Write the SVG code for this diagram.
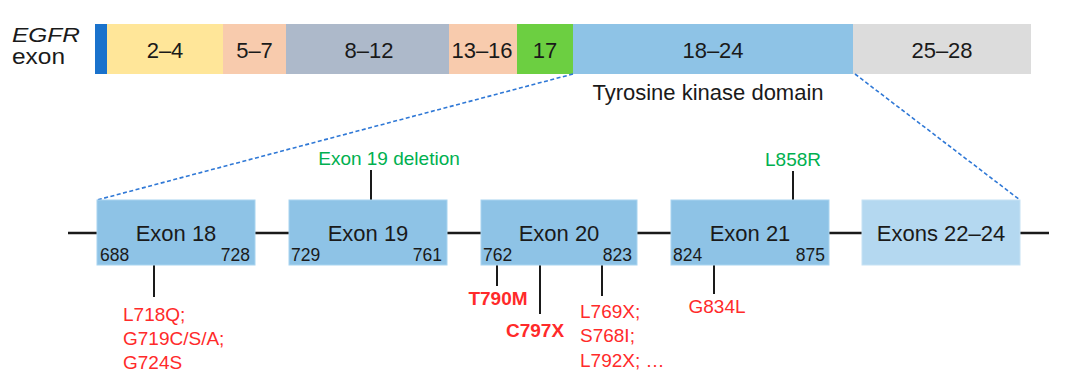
<svg xmlns="http://www.w3.org/2000/svg" width="1080" height="387" viewBox="0 0 1080 387">
<style>
text{font-family:"Liberation Sans",Arial,sans-serif;fill:#1a1a1a}
.bar{font-size:22px;text-anchor:middle}
.ex{fill:#8ec3e6;stroke:#a8d4f0;stroke-width:1}
.exl{font-size:22px;text-anchor:middle}
.num{font-size:17.5px}
.end{text-anchor:end}
.tick{stroke:#1a1a1a;stroke-width:2}
.dash{stroke:#2f78d6;stroke-width:1.6;stroke-dasharray:4 2.5;fill:none}
.green{fill:#00b050;font-size:19px;text-anchor:middle}
.red{fill:#ff2a2a;font-size:19px}
.bold{font-weight:bold}
</style>
<rect width="1080" height="387" fill="#ffffff"/>
<g id="label">
<text x="12" y="42" font-size="20" font-style="italic" textLength="68" lengthAdjust="spacingAndGlyphs">EGFR</text>
<text x="12" y="64" font-size="22" textLength="53" lengthAdjust="spacingAndGlyphs">exon</text>
</g>
<g id="exon-bar">
<rect x="95" y="24" width="12" height="50" fill="#1a72cc"/>
<rect x="107" y="24" width="116" height="50" fill="#ffe699"/>
<rect x="223" y="24" width="63" height="50" fill="#f8cbad"/>
<rect x="286" y="24" width="163" height="50" fill="#adb9ca"/>
<rect x="449" y="24" width="68" height="50" fill="#f8cbad"/>
<rect x="517" y="24" width="56" height="50" fill="#6ccf41"/>
<rect x="573" y="24" width="280" height="50" fill="#8ec3e6"/>
<rect x="853" y="24" width="178" height="50" fill="#dcdcdc"/>
<text class="bar" x="165" y="58">2–4</text>
<text class="bar" x="254.5" y="58">5–7</text>
<text class="bar" x="369" y="58">8–12</text>
<text class="bar" x="482" y="58">13–16</text>
<text class="bar" x="545" y="58">17</text>
<text class="bar" x="713" y="58">18–24</text>
<text class="bar" x="942" y="58">25–28</text>
<text class="bar" x="708" y="100">Tyrosine kinase domain</text>
</g>
<g id="connectors">
<line x1="68" y1="233" x2="1049" y2="233" stroke="#1a1a1a" stroke-width="2.5"/>
<line class="dash" x1="573" y1="74" x2="97" y2="200"/>
<line class="dash" x1="855" y1="74" x2="1020" y2="200"/>
<line class="tick" x1="371" y1="170" x2="371" y2="200"/>
<line class="tick" x1="793" y1="171" x2="793" y2="200"/>
<line class="tick" x1="154" y1="265" x2="154" y2="297"/>
<line class="tick" x1="497" y1="265" x2="497" y2="286" stroke-width="2.5"/>
<line class="tick" x1="540" y1="265" x2="540" y2="314" stroke-width="2.5"/>
<line class="tick" x1="602" y1="265" x2="602" y2="296"/>
<line class="tick" x1="714" y1="265" x2="714" y2="294"/>
</g>
<g id="exon18">
<rect class="ex" x="97" y="200" width="158" height="65"/>
<text class="exl" x="176" y="241">Exon 18</text>
<text class="num" x="100" y="261">688</text>
<text class="num end" x="250" y="261">728</text>
</g>
<g id="exon19">
<rect class="ex" x="289" y="200" width="158" height="65"/>
<text class="exl" x="368" y="241">Exon 19</text>
<text class="num" x="291" y="261">729</text>
<text class="num end" x="442" y="261">761</text>
</g>
<g id="exon20">
<rect class="ex" x="481" y="200" width="156" height="65"/>
<text class="exl" x="559" y="241">Exon 20</text>
<text class="num" x="483" y="261">762</text>
<text class="num end" x="632" y="261">823</text>
</g>
<g id="exon21">
<rect class="ex" x="671" y="200" width="158" height="65"/>
<text class="exl" x="750" y="241">Exon 21</text>
<text class="num" x="673" y="261">824</text>
<text class="num end" x="825" y="261">875</text>
</g>
<g id="exon22-24">
<rect x="862" y="200" width="158" height="65" fill="#b4d8f0" stroke="#c6e2f4" stroke-width="1"/>
<text class="exl" x="941" y="241">Exons 22–24</text>
</g>
<g id="mutations">
<text class="green" x="389" y="165">Exon 19 deletion</text>
<text class="green" x="793" y="166">L858R</text>
<text class="red" x="123" y="321">L718Q;</text>
<text class="red" x="123" y="345">G719C/S/A;</text>
<text class="red" x="123" y="369">G724S</text>
<text class="red bold" x="498" y="305" text-anchor="middle">T790M</text>
<text class="red bold" x="506" y="337">C797X</text>
<text class="red" x="580" y="318">L769X;</text>
<text class="red" x="580" y="342">S768I;</text>
<text class="red" x="580" y="367">L792X; …</text>
<text class="red" x="717" y="313" text-anchor="middle">G834L</text>
</g>
</svg>
